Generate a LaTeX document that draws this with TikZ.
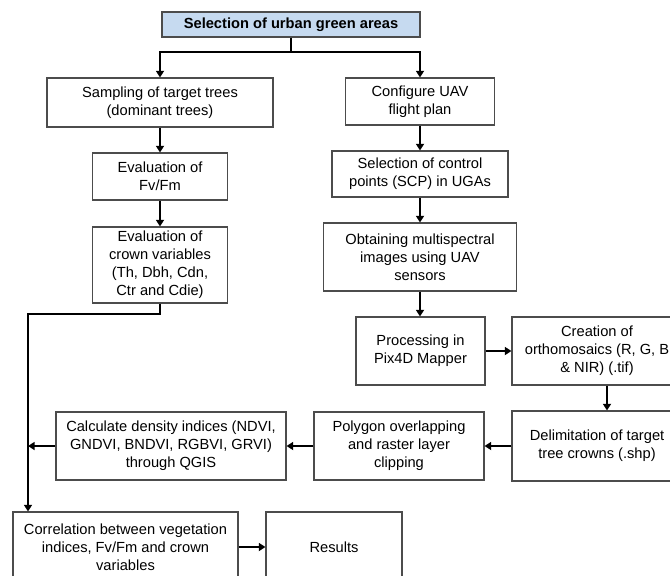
\documentclass[tikz,border=0pt]{standalone}
\usepackage{fontspec}
\setmainfont{Liberation Sans}
\usepackage{tikz}
\usetikzlibrary{positioning}
\usetikzlibrary{arrows.meta}
\usetikzlibrary{calc}
\definecolor{headblue}{RGB}{198,218,240}

\begin{document}
\begin{tikzpicture}[x=0.75pt, y=-0.75pt,
  box/.style={draw=black!70, line width=0.8pt, align=center, inner sep=2pt,
    font=\fontsize{11}{13.5}\selectfont},
  head/.style={fill=headblue, font=\fontsize{11}{13.5}\selectfont\bfseries},
  sz/.style 2 args={minimum width=#1*0.75pt, minimum height=#2*0.75pt},
  ln/.style={line width=1.7pt},
  arr/.style={line width=1.7pt, -{Triangle[length=5pt,width=6pt]}}]
\clip (0,0) rectangle (670,575);

\node[box, head, sz={258}{25}] (select) at (291,24.5) {Selection of urban green areas};

% left branch
\node[box, sz={226}{49}] (sampling) at (160,102.5) {Sampling of target trees\\(dominant trees)};
\node[box, sz={135}{47}] (fvfm) at (160,176.5) {Evaluation of\\Fv/Fm};
\node[box, sz={135}{76}] (crown) at (160,265) {Evaluation of\\crown variables\\(Th, Dbh, Cdn,\\Ctr and Cdie)};

% right branch
\node[box, sz={149}{47}] (config) at (420,101.5) {Configure UAV\\flight plan};
\node[box, sz={176}{46}] (control) at (420,174) {Selection of control\\points (SCP) in UGAs};
\node[box, sz={193}{68}] (images) at (420,257) {Obtaining multispectral\\images using UAV\\sensors};
\node[box, sz={129}{68}] (pix4d) at (420.5,351) {Processing in\\Pix4D Mapper};
\node[box, sz={170}{68}] (ortho) at (597,351) {Creation of\\orthomosaics (R, G, B\\\& NIR) (.tif)};

% back to the left
\node[box, sz={170}{70}] (delim) at (597,446) {Delimitation of target\\tree crowns (.shp)};
\node[box, sz={170}{68}] (overlap) at (399,446) {Polygon overlapping\\and raster layer\\clipping};
\node[box, sz={230}{68}] (indices) at (171,446) {Calculate density indices (NDVI,\\GNDVI, BNDVI, RGBVI, GRVI)\\through QGIS};
\node[box, sz={225}{70}] (correl) at (125.5,547) {Correlation between vegetation\\indices, Fv/Fm and crown\\variables};
\node[box, sz={136}{70}] (results) at (334,547) {Results};

\coordinate (split) at (291,52);
\coordinate (bend) at (28,314);

\draw[ln] (select.south) -- (split);
\draw[arr] (split) -| (sampling.north);
\draw[arr] (split) -| (config.north);
\draw[arr] (sampling.south) -- (fvfm.north);
\draw[arr] (fvfm.south) -- (crown.north);
\draw[arr] (config.south) -- (control.north);
\draw[arr] (control.south) -- (images.north);
\draw[arr] (images.south) -- (images.south |- pix4d.north);
\draw[arr] (pix4d.east) -- (ortho.west);
\draw[arr] ($(ortho.south)+(10,0)$) -- ($(delim.north)+(10,0)$);
\draw[arr] (delim.west) -- (overlap.east);
\draw[arr] (overlap.west) -- (indices.east);
\draw[arr] (crown.south) |- (bend) -- (bend |- correl.north);
\draw[arr] (indices.west) -- (indices.west -| bend);
\draw[arr] (correl.east) -- (results.west);
\end{tikzpicture}
\end{document}
